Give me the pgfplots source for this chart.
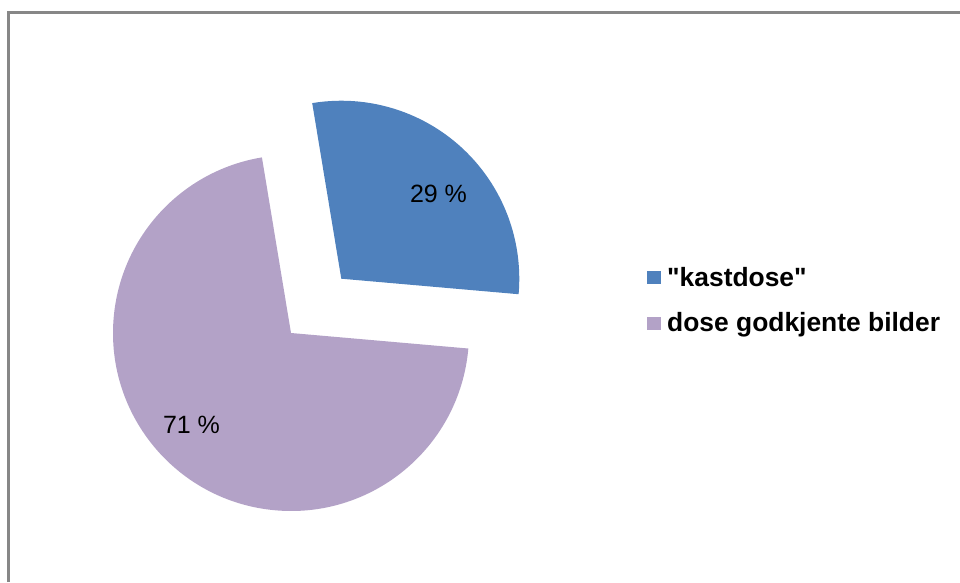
\documentclass[border=0pt]{standalone}
\usepackage{pgfplots}
\pgfplotsset{compat=1.18}
\usepackage{fontspec}
\setmainfont{Liberation Sans}[Ligatures=TeXOff]
\definecolor{sliceblue}{HTML}{4F81BD}
\definecolor{slicepurple}{HTML}{B3A2C7}
\definecolor{framegray}{HTML}{878787}
\begin{document}
\begin{tikzpicture}
\path[use as bounding box] (0,0) rectangle (960pt,582pt);
\begin{axis}[
  at={(0,0)}, anchor=south west,
  scale only axis, width=960pt, height=582pt,
  xmin=0, xmax=960, ymin=0, ymax=582,
  hide axis, clip=false,
]
% data: shares in percent
\def\valA{29}   % "kastdose"
\def\valB{71}   % dose godkjente bilder
\def\startang{99.4}
\pgfmathsetmacro{\angA}{\valA*3.6}
\pgfmathsetmacro{\endA}{\startang-\angA}
\pgfmathsetmacro{\endB}{\endA-\valB*3.6}
\pgfmathsetmacro{\midA}{\startang-\angA/2}
\def\cx{291}\def\cy{249}\def\r{178}
\pgfmathsetmacro{\bx}{\cx+74*cos(\midA)}
\pgfmathsetmacro{\by}{\cy+74*sin(\midA)}
% purple slice
\fill[slicepurple] (axis cs:\cx,\cy) -- ++(\endA:\r pt) arc[start angle=\endA, end angle=\endB, radius=\r pt] -- cycle;
% exploded blue slice
\fill[sliceblue] (axis cs:\bx,\by) -- ++(\startang:\r pt) arc[start angle=\startang, end angle=\endA, radius=\r pt] -- cycle;
% labels
\node[font=\fontsize{25}{30}\selectfont] at (axis cs:438.5,388) {29 \%};
\node[font=\fontsize{25}{30}\selectfont] at (axis cs:191.5,157) {71 \%};
% legend
\fill[sliceblue] (axis cs:647,298) rectangle (axis cs:661,311);
\fill[slicepurple] (axis cs:647,252) rectangle (axis cs:661,265);
\node[anchor=base west, inner sep=0pt, font=\fontsize{26.4}{30}\selectfont\bfseries] at (axis cs:667,296) {"kastdose"};
\node[anchor=base west, inner sep=0pt, font=\fontsize{26.4}{30}\selectfont\bfseries] at (axis cs:667,251) {dose godkjente bilder};
% chart frame
\draw[framegray, line width=2.7pt] (axis cs:8.8,0) -- (axis cs:8.8,569.5) -- (axis cs:960,569.5);
\end{axis}
\end{tikzpicture}
\end{document}
